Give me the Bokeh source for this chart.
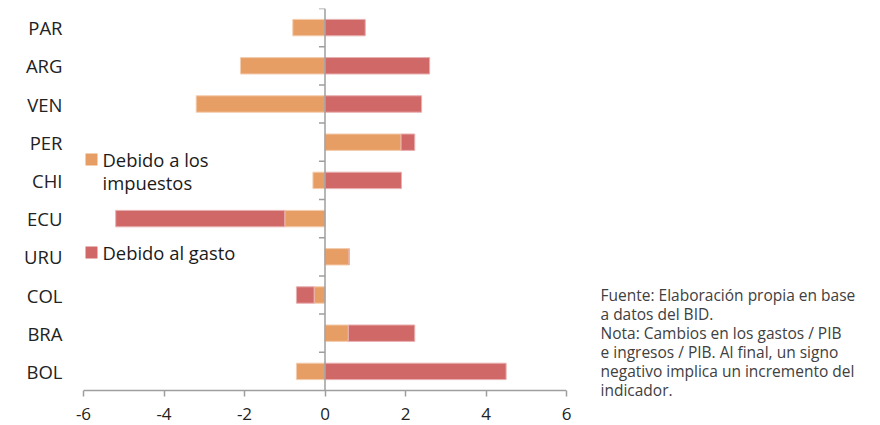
import numpy as np
from bokeh.plotting import figure
from bokeh.layouts import row
from bokeh.models import (Range1d, FixedTicker, Span, Label, BoxAnnotation)
from bokeh.embed import file_html
from bokeh.resources import INLINE

# Countries, top to bottom
countries = ["PAR", "ARG", "VEN", "PER", "CHI", "ECU", "URU", "COL", "BRA", "BOL"]
# Change attributable to taxes and to spending (p.p. of GDP)
due_to_taxes = [-0.8, -2.1, -3.2, 1.89, -0.3, -1.0, 0.6, -0.27, 0.58, -0.71]
due_to_spending = [1.0, 2.6, 2.4, 0.34, 1.9, -4.2, 0.0, -0.44, 1.65, 4.5]
x_ticks = [-6, -4, -2, 0, 2, 4, 6]
x_tick_labels = ["-6", "-4", "-2", "0", "2", "4", "6"]

legend_taxes = ["Debido a los", "impuestos"]
legend_spending = "Debido al gasto"
note_lines = [
    "Fuente: Elaboración propia en base",
    "a datos del BID.",
    "Nota: Cambios en los gastos / PIB",
    "e ingresos / PIB. Al final, un signo",
    "negativo implica un incremento del",
    "indicador.",
]

ORANGE = "#E79E64"
RED = "#D06868"
GREY = "#9e9e9e"
FONT = "Open Sans"

FRAME_LEFT = 83
FRAME_TOP = 8
FRAME_BOTTOM = 396      # frame runs a little below the zero line of the bars
ROW_PX = 38.2           # height of one category row
MAIN_W = 590
H = 425

n = len(countries)
y_pos = np.array([n - 1 - i + 0.5 for i in range(n)])
t = np.array(due_to_taxes)
s = np.array(due_to_spending)

# Stacked like a spreadsheet: positives pile on positives, negatives on negatives
tax_left = np.minimum(t, 0)
tax_right = np.maximum(t, 0)
base = np.where(s >= 0, np.maximum(t, 0), np.minimum(t, 0))
sp_left = np.where(s >= 0, base, base + s)
sp_right = np.where(s >= 0, base + s, base)

y_start = -(FRAME_BOTTOM - FRAME_TOP - n * ROW_PX) / ROW_PX
p = figure(width=MAIN_W, height=H, output_backend="svg", toolbar_location=None,
           x_range=Range1d(-6, 6), y_range=Range1d(y_start, n),
           min_border_left=FRAME_LEFT, min_border_right=MAIN_W - 566,
           min_border_top=FRAME_TOP, min_border_bottom=H - FRAME_BOTTOM)
p.outline_line_color = None
p.grid.visible = False
p.background_fill_color = "white"
p.border_fill_color = "white"

p.hbar(y=y_pos, left=tax_left, right=tax_right, height=0.43,
       fill_color=ORANGE, line_color="#F3CDAE", line_width=1)
p.hbar(y=y_pos, left=sp_left, right=sp_right, height=0.43,
       fill_color=RED, line_color="#E8B0B0", line_width=1)

# Horizontal base line and vertical zero line with small ticks between categories
p.add_layout(Span(location=0, dimension="width", line_color=GREY, line_width=1.5))
p.segment(x0=[0], y0=[0], x1=[0], y1=[n], line_color=GREY, line_width=1.5)
bounds = np.arange(1, n + 1)
p.segment(x0=np.full(len(bounds), -0.15), y0=bounds, x1=np.zeros(len(bounds)), y1=bounds,
          line_color=GREY, line_width=1.5)

# X axis: ticks hang below the base line
xa = p.xaxis[0]
xa.ticker = FixedTicker(ticks=x_ticks)
xa.major_label_overrides = {v: lab for v, lab in zip(x_ticks, x_tick_labels)}
xa.axis_line_color = None
xa.major_tick_line_color = GREY
xa.major_tick_line_width = 1.5
xa.major_tick_in = 6
xa.major_tick_out = 0
xa.minor_tick_line_color = None
xa.major_label_text_font = FONT
xa.major_label_text_font_size = "17px"
xa.major_label_text_color = "#222222"
xa.major_label_standoff = 11

# Y axis: only category names
ya = p.yaxis[0]
ya.ticker = FixedTicker(ticks=list(y_pos))
ya.major_label_overrides = {float(y): c for y, c in zip(y_pos, countries)}
ya.axis_line_color = None
ya.major_tick_line_color = None
ya.minor_tick_line_color = None
ya.major_label_text_font = FONT
ya.major_label_text_font_size = "18.5px"
ya.major_label_text_color = "#222222"
ya.major_label_standoff = 15


# Screen helpers: (cx, cy) measured from the canvas top-left
def screen_box(x0, x1, y0, y1, color):
    return BoxAnnotation(left=x0 - FRAME_LEFT, right=x1 - FRAME_LEFT,
                         bottom=FRAME_BOTTOM - y1, top=FRAME_BOTTOM - y0,
                         left_units="screen", right_units="screen",
                         bottom_units="screen", top_units="screen",
                         fill_color=color, fill_alpha=1, line_color=None)


def screen_label(x, y, txt, size, color):
    return Label(x=x - FRAME_LEFT, y=FRAME_BOTTOM - y, x_units="screen", y_units="screen",
                 text=txt, text_font=FONT, text_font_size=size, text_color=color,
                 text_baseline="middle", text_align="left")


# Legend, drawn by hand
p.add_layout(screen_box(85, 97, 153, 165, ORANGE))
p.add_layout(screen_label(102, 159, legend_taxes[0], "18.4px", "#1a1a1a"))
p.add_layout(screen_label(102, 182, legend_taxes[1], "18.4px", "#1a1a1a"))
p.add_layout(screen_box(85, 97, 246, 258, RED))
p.add_layout(screen_label(102, 252, legend_spending, "18.4px", "#1a1a1a"))

# Side panel with source and note; its frame lines up with the main one,
# and its ranges run in page pixels (y downwards)
q = figure(width=880 - MAIN_W, height=H, output_backend="svg", toolbar_location=None,
           x_range=Range1d(MAIN_W, 880), y_range=Range1d(FRAME_BOTTOM, FRAME_TOP),
           x_axis_location=None, y_axis_location=None,
           min_border_left=0, min_border_right=0,
           min_border_top=FRAME_TOP, min_border_bottom=H - FRAME_BOTTOM)
q.grid.visible = False
q.outline_line_color = None
q.border_fill_color = "white"
for k, line in enumerate(note_lines):
    q.add_layout(Label(x=600, y=294 + 19 * k, text=line, text_font=FONT,
                       text_font_size="15.5px", text_color="#404040",
                       text_baseline="middle", text_align="left"))

layout = row(p, q, spacing=0)
open("out.html", "w").write(file_html(layout, INLINE))
